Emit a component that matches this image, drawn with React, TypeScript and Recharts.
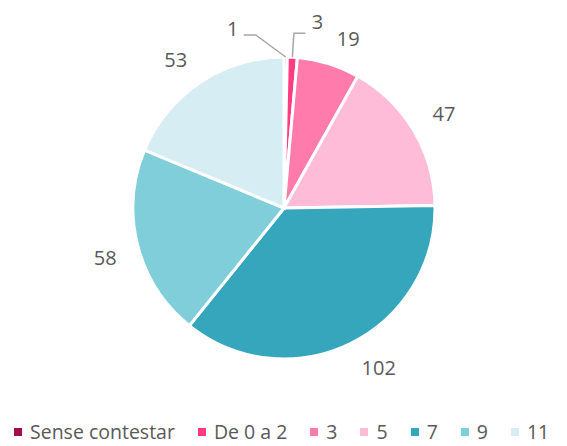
import { PieChart, Pie, Cell, Legend } from "recharts";

const categories = ["Sense contestar", "De 0 a 2", "3", "5", "7", "9", "11"];
const values = [1, 3, 19, 47, 102, 58, 53];
const colors = ["#a50a4a", "#ff3c82", "#ff7bac", "#ffbcd8", "#36a6bd", "#81cedb", "#d5edf3"];

const data = categories.map((name, i) => ({ name, value: values[i] }));

const RAD = Math.PI / 180;
const labelColor = "#595959";
const font = "'Open Sans', Lato, sans-serif";
const labelSize = 20;

const renderLabel = (props: any) => {
  const { cx, cy, midAngle, outerRadius, index, value } = props;
  const cos = Math.cos(-midAngle * RAD);
  const sin = Math.sin(-midAngle * RAD);
  const ex = cx + outerRadius * cos;
  const ey = cy + outerRadius * sin;

  // the two tiny slices get leader lines
  if (index === 0) {
    return (
      <g>
        <polyline
          points={`${ex},${ey} ${ex - 30},${ey - 22} ${ex - 42},${ey - 22}`}
          fill="none"
          stroke="#a6a6a6"
          strokeWidth={1.5}
        />
        <text x={ex - 53} y={ey - 29} fill={labelColor} fontSize={labelSize} fontFamily={font} textAnchor="middle" dominantBaseline="central">
          {value}
        </text>
      </g>
    );
  }
  if (index === 1) {
    return (
      <g>
        <polyline
          points={`${ex},${ey} ${ex + 1.5},${ey - 24} ${ex + 13},${ey - 24}`}
          fill="none"
          stroke="#a6a6a6"
          strokeWidth={1.5}
        />
        <text x={ex + 25} y={ey - 36} fill={labelColor} fontSize={labelSize} fontFamily={font} textAnchor="middle" dominantBaseline="central">
          {value}
        </text>
      </g>
    );
  }
  // label box corner sits just outside the arc, like Excel's "outside end"
  const r = outerRadius + 19;
  const halfW = String(value).length * 6 + 2;
  const x = cx + r * cos + Math.sign(cos) * halfW;
  const y = cy + r * sin + Math.sign(sin) * 7;
  return (
    <text x={x} y={y} fill={labelColor} fontSize={labelSize} fontFamily={font} textAnchor="middle" dominantBaseline="central">
      {value}
    </text>
  );
};

const renderLegend = () => (
  <div
    style={{
      display: "flex",
      alignItems: "center",
      fontFamily: font,
      fontSize: 19.5,
      lineHeight: "26px",
      height: 26,
      color: labelColor,
      paddingLeft: 14,
      whiteSpace: "nowrap",
    }}
  >
    {categories.map((c, i) => (
      <div key={c} style={{ display: "flex", alignItems: "center", marginRight: 23 }}>
        <span style={{ display: "inline-block", width: 8, height: 8, background: colors[i], marginRight: 8 }} />
        <span>{c}</span>
      </div>
    ))}
  </div>
);

export default function App() {
  return (
    <div style={{ position: "absolute", left: 0, top: 0, background: "#fff" }}>
      <PieChart width={567} height={446} margin={{ top: 0, right: 0, bottom: 0, left: 0 }}>
        <Pie
          data={data}
          dataKey="value"
          nameKey="name"
          cx={284}
          cy={208}
          outerRadius={151}
          startAngle={90}
          endAngle={-270}
          stroke="#ffffff"
          strokeWidth={3}
          label={renderLabel}
          labelLine={false}
          isAnimationActive={false}
        >
          {data.map((d, i) => (
            <Cell key={d.name} fill={colors[i]} />
          ))}
        </Pie>
        <Legend content={renderLegend} wrapperStyle={{ position: "absolute", left: 0, top: 419, width: 567, height: 26 }} />
      </PieChart>
    </div>
  );
}
